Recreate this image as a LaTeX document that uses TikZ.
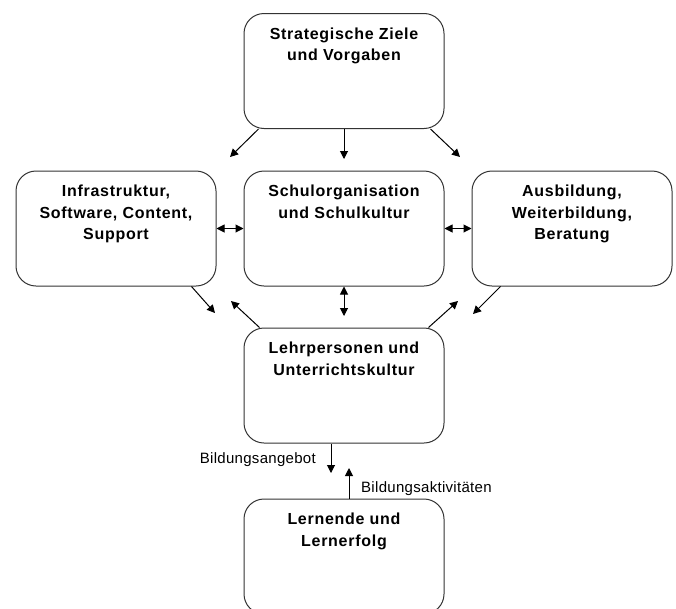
\documentclass[tikz,border=0pt]{standalone}
\usepackage{fontspec}
\setmainfont{Liberation Sans}
\newfontfamily\titlefont[LetterSpace=4.5]{Liberation Sans}
\newfontfamily\labelfont[LetterSpace=2]{Liberation Sans}
\usetikzlibrary{arrows.meta}
\begin{document}
\begin{tikzpicture}[x=1pt,y=-1pt,
  box/.style={draw=black!80, line width=1pt, rounded corners=20pt, minimum width=200pt, minimum height=115pt, inner sep=0pt},
  title/.style={anchor=north, align=center, inner sep=0pt, font=\titlefont\bfseries\fontsize{16}{21.5}\selectfont},
  arr/.style={line width=1pt, -{Triangle[length=8pt,width=8pt]}},
  darr/.style={line width=1pt, {Triangle[length=8pt,width=8pt]}-{Triangle[length=8pt,width=8pt]}},
  lbl/.style={font=\labelfont\fontsize{15}{18}\selectfont, inner sep=0pt}]
\path[use as bounding box, fill=white] (0,0) rectangle (676,608);
% boxes
\node[box] (ziele) at (344,71) {};
\node[box] (infra) at (116,228.5) {};
\node[box] (schul) at (344,228.5) {};
\node[box] (ausb) at (572,228.5) {};
\node[box] (lehr) at (344,385.5) {};
\node[box] (lern) at (344,556.5) {};
% titles
\node[title] (tziele) at ([yshift=-14pt]ziele.north) {\rule{0pt}{12pt}Strategische Ziele\\und Vorgaben};
\node[title] (tinfra) at ([yshift=-14pt]infra.north) {\rule{0pt}{12pt}Infrastruktur,\\Software, Content,\\Support};
\node[title] (tschul) at ([yshift=-14pt]schul.north) {\rule{0pt}{12pt}Schulorganisation\\und Schulkultur};
\node[title] (tausb) at ([yshift=-14pt]ausb.north) {\rule{0pt}{12pt}Ausbildung,\\Weiterbildung,\\Beratung};
\node[title] (tlehr) at ([yshift=-14pt]lehr.north) {\rule{0pt}{12pt}Lehrpersonen und\\Unterrichtskultur};
\node[title] (tlern) at ([yshift=-14pt]lern.north) {\rule{0pt}{12pt}Lernende und\\Lernerfolg};
% free ends
\coordinate (zl) at (230,157);
\coordinate (zm) at (344,159);
\coordinate (zr) at (460,157);
\coordinate (sm) at (344,316);
\coordinate (il) at (215,313);
\coordinate (ll) at (231,301);
\coordinate (lr) at (458,301);
\coordinate (al) at (473,314);
\coordinate (ba) at (331,473);
\coordinate (bk) at (349,468);
% connectors
\draw[arr] ([xshift=15pt]ziele.south west) -- (zl);
\draw[arr] (ziele) -- (zm);
\draw[arr] ([xshift=-14pt]ziele.south east) -- (zr);
\draw[darr] (infra) -- (schul);
\draw[darr] (schul) -- (ausb);
\draw[darr] (schul) -- (sm);
\draw[arr] ([xshift=-25pt]infra.south east) -- (il);
\draw[arr] ([xshift=16pt]lehr.north west) -- (ll);
\draw[arr] ([xshift=-16pt]lehr.north east) -- (lr);
\draw[arr] ([xshift=29pt]ausb.south west) -- (al);
\draw[arr] (lehr.south -| ba) -- (ba);
\draw[arr] (lern.north -| bk) -- (bk);
% labels
\node[lbl, anchor=base east] (angebot) at (316,463) {Bildungsangebot};
\node[lbl, anchor=base west] (aktiv) at (361,492) {Bildungsaktivitäten};
\end{tikzpicture}
\end{document}
